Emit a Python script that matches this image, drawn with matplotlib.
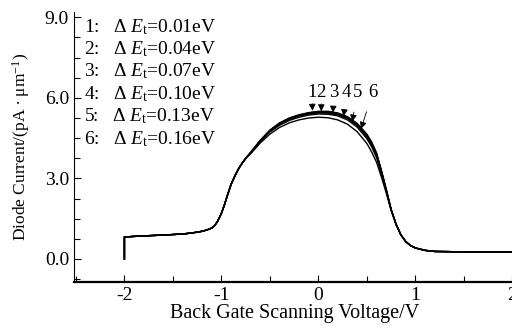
import numpy as np
import matplotlib
matplotlib.use("Agg")
import matplotlib.pyplot as plt
from matplotlib.ticker import MultipleLocator

plt.rcParams['font.family'] = ['Liberation Serif', 'DejaVu Serif']
plt.rcParams['mathtext.fontset'] = 'custom'
plt.rcParams['mathtext.rm'] = 'Liberation Serif'
plt.rcParams['mathtext.it'] = 'Liberation Serif:italic'

# --- data ---
# shared tails (all curves coincide here)
x_left = [-2.0, -1.8, -1.6, -1.4, -1.3, -1.2, -1.15, -1.1, -1.07, -1.04, -1.0, -0.97, -0.94,
          -0.9, -0.86, -0.82, -0.78, -0.74]
y_left = [0.82, 0.86, 0.89, 0.93, 0.97, 1.03, 1.08, 1.15, 1.24, 1.40, 1.70, 2.00, 2.35,
          2.78, 3.10, 3.38, 3.60, 3.79]
x_right = [0.8, 0.85, 0.9, 0.95, 1.0, 1.1, 1.2, 1.4, 1.6, 1.8, 2.0]
y_right = [1.3, 0.9, 0.65, 0.5, 0.41, 0.32, 0.28, 0.27, 0.26, 0.26, 0.26]

# middle part where the six curves separate
x_mid = [-0.7, -0.6, -0.5, -0.4, -0.3, -0.2, -0.1, 0.0, 0.1, 0.2, 0.3, 0.4, 0.5, 0.55, 0.6, 0.65, 0.7, 0.75]
y_mid_1 = [3.96, 4.42, 4.80, 5.07, 5.25, 5.37, 5.45, 5.50, 5.50, 5.44, 5.30, 5.05, 4.65, 4.35, 3.95, 3.30, 2.60, 1.85]
y_mid_2 = [3.96, 4.41, 4.79, 5.06, 5.24, 5.36, 5.44, 5.49, 5.48, 5.42, 5.28, 5.03, 4.62, 4.32, 3.92, 3.28, 2.58, 1.85]
y_mid_3 = [3.96, 4.40, 4.78, 5.04, 5.22, 5.34, 5.42, 5.46, 5.46, 5.40, 5.26, 5.00, 4.59, 4.28, 3.88, 3.25, 2.56, 1.84]
y_mid_4 = [3.95, 4.39, 4.76, 5.02, 5.20, 5.32, 5.40, 5.44, 5.43, 5.37, 5.23, 4.97, 4.55, 4.24, 3.84, 3.22, 2.54, 1.84]
y_mid_5 = [3.94, 4.37, 4.73, 4.98, 5.16, 5.28, 5.36, 5.40, 5.39, 5.33, 5.18, 4.91, 4.48, 4.17, 3.77, 3.17, 2.52, 1.83]
y_mid_6 = [3.91, 4.32, 4.65, 4.90, 5.07, 5.18, 5.25, 5.28, 5.26, 5.18, 5.02, 4.74, 4.30, 3.98, 3.60, 3.05, 2.45, 1.80]

delta_e = ['0.01', '0.04', '0.07', '0.10', '0.13', '0.16']
curve_labels = ['1', '2', '3', '4', '5', '6']
label_x = [-0.07, 0.03, 0.16, 0.29, 0.40, 0.56]
arrow_tip_x = [-0.06, 0.03, 0.15, 0.26, 0.35, 0.44]
arrow_tip_y = [5.52, 5.50, 5.45, 5.32, 5.12, 4.85]

fig = plt.figure(figsize=(5.12, 3.33), dpi=100)
ax = fig.add_axes([0.1445, 0.153, 0.86, 0.811])

x_all = np.array(x_left + x_mid + x_right)
for ym in [y_mid_1, y_mid_2, y_mid_3, y_mid_4, y_mid_5, y_mid_6]:
    y_all = np.array(y_left + ym + y_right)
    # vertical start segment at -2 V
    ax.plot(np.r_[x_all[0], x_all], np.r_[0.0, y_all], color='black', lw=1.0)

for lab, lx, tx, ty in zip(curve_labels, label_x, arrow_tip_x, arrow_tip_y):
    ax.annotate(lab, xy=(tx, ty), xytext=(lx, 6.2), ha='center', va='center', fontsize=13.5,
                arrowprops=dict(arrowstyle='-|>,head_length=0.3,head_width=0.15', color='black', lw=0.6,
                                shrinkA=6, shrinkB=0))

for i, de in enumerate(delta_e):
    ax.text(-2.42, 8.65 - i * 0.835, f'{i + 1}:   ' + r'$\Delta\;E_{\rm t}$' + f'={de}eV',
            fontsize=14, ha='left', va='center')

ax.set_xlim(-2.52, 2.02)
ax.set_ylim(-0.86, 9.2)
ax.set_xticks([-2, -1, 0, 1, 2])
ax.set_xticklabels(['-2', '-1', '0', '1', '2'])
ax.set_yticks([0, 3, 6, 9])
ax.set_yticklabels(['0.0', '3.0', '6.0', '9.0'])
ax.xaxis.set_minor_locator(MultipleLocator(0.5))
ax.yaxis.set_minor_locator(MultipleLocator(0.75))
ax.tick_params(which='both', direction='in', labelsize=14, length=5, width=0.8)
ax.tick_params(which='minor', length=4)
ax.spines['top'].set_visible(False)
ax.spines['right'].set_visible(False)
ax.spines['bottom'].set_linewidth(1.6)
ax.spines['left'].set_linewidth(0.8)

ax.set_xlabel('Back Gate Scanning Voltage/V', fontsize=14.5, labelpad=0)
ax.set_ylabel(r'Diode Current/(pA $\bullet$ μm$^{-1}$)', fontsize=12.5, labelpad=9)

fig.savefig('out.png', dpi=100)
